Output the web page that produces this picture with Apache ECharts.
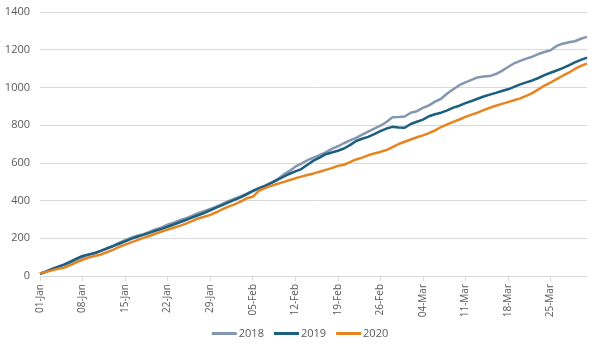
<!DOCTYPE html>
<html>
<head>
<meta charset="utf-8">
<script src="https://cdn.jsdelivr.net/npm/echarts@6/dist/echarts.min.js"></script>
<style>
  html, body { margin: 0; padding: 0; background: #fff; }
  #chart { width: 600px; height: 350px; }
</style>
</head>
<body>
<div id="chart"></div>
<script>
// daily categories 01-Jan .. 31-Mar (leap year calendar)
const months = ['Jan', 'Feb', 'Mar'];
const monthDays = [31, 29, 31];
const categories = [];
months.forEach((m, i) => {
    for (let d = 1; d <= monthDays[i]; d++) {
        categories.push((d < 10 ? '0' + d : '' + d) + '-' + m);
    }
});

const yearNames = ['2018', '2019', '2020'];

const data2018 = [
    10, 22, 35, 47, 58, 70, 85, 100, 112, 120,
    133, 147, 160, 176, 190, 203, 214, 222, 234, 247,
    258, 272, 283, 296, 306, 319, 333, 344, 356, 368,
    382, 397, 410, 422, 437, 452, 466, 478, 494, 512,
    536, 556, 580, 596, 614, 628, 641, 656, 674, 688,
    704, 719, 733, 750, 766, 782, 797, 817, 842, 843,
    846, 866, 874, 892, 905, 925, 940, 968, 990, 1012,
    1027, 1040, 1053, 1058, 1060, 1071, 1088, 1108, 1128, 1141,
    1153, 1163, 1177, 1188, 1197, 1220, 1232, 1240, 1245, 1258,
    1268
];

const data2019 = [
    12, 24, 37, 50, 62, 76, 92, 106, 114, 122,
    133, 146, 158, 171, 184, 197, 208, 218, 229, 240,
    250, 261, 273, 285, 297, 310, 322, 334, 348, 363,
    376, 390, 404, 417, 433, 450, 465, 478, 492, 508,
    525, 541, 555, 567, 590, 612, 628, 646, 655, 664,
    676, 694, 716, 728, 738, 752, 768, 782, 791, 788,
    786, 806, 818, 829, 847, 858, 866, 878, 893, 903,
    917, 928, 940, 952, 962, 971, 981, 990, 1003, 1016,
    1027, 1037, 1050, 1065, 1078, 1090, 1102, 1117, 1133, 1146,
    1158
];

const data2020 = [
    14, 22, 30, 38, 44, 58, 72, 86, 98, 106,
    114, 126, 139, 154, 166, 178, 190, 202, 212, 224,
    236, 246, 256, 266, 278, 291, 305, 314, 324, 338,
    354, 368, 380, 394, 412, 420, 452, 466, 478, 488,
    498, 508, 518, 527, 536, 544, 553, 563, 572, 584,
    590, 604, 618, 628, 640, 650, 658, 668, 684, 700,
    712, 724, 736, 746, 758, 772, 790, 804, 817, 830,
    844, 856, 866, 880, 892, 903, 913, 922, 932, 942,
    955, 970, 990, 1010, 1026, 1044, 1062, 1078, 1098, 1114,
    1126
];

const colors = ['#8497b0', '#1b5e80', '#e8841f'];

const chart = echarts.init(document.getElementById('chart'));
const option = {
    animation: false,
    color: colors,
    textStyle: { fontFamily: 'Open Sans' },
    grid: {
        left: 40,
        right: 13,
        top: 12,
        bottom: 74
    },
    legend: {
        bottom: 6,
        left: 'center',
        itemWidth: 25,
        itemHeight: 3,
        itemGap: 10,
        icon: 'rect',
        textStyle: { color: '#595959', fontSize: 11, padding: [0, 0, 0, -3] },
        data: yearNames
    },
    xAxis: {
        type: 'category',
        boundaryGap: false,
        data: categories,
        axisLine: { lineStyle: { color: '#d9d9d9' } },
        axisTick: {
            show: true,
            interval: 6,
            length: 5,
            lineStyle: { color: '#d9d9d9' }
        },
        axisLabel: {
            interval: 6,
            rotate: 90,
            color: '#595959',
            fontSize: 10,
            margin: 8
        },
        splitLine: { show: false }
    },
    yAxis: {
        type: 'value',
        min: 0,
        max: 1400,
        interval: 200,
        axisLine: { show: false },
        axisTick: { show: false },
        axisLabel: {
            color: '#595959',
            fontSize: 11,
            margin: 10,
            formatter: (v) => String(v)
        },
        splitLine: { lineStyle: { color: '#d9d9d9' } }
    },
    series: [
        { name: yearNames[0], type: 'line', data: data2018, showSymbol: false, lineStyle: { width: 2.5 } },
        { name: yearNames[1], type: 'line', data: data2019, showSymbol: false, lineStyle: { width: 2.5 } },
        { name: yearNames[2], type: 'line', data: data2020, showSymbol: false, lineStyle: { width: 2.5 } }
    ]
};
chart.setOption(option);
</script>
</body>
</html>
